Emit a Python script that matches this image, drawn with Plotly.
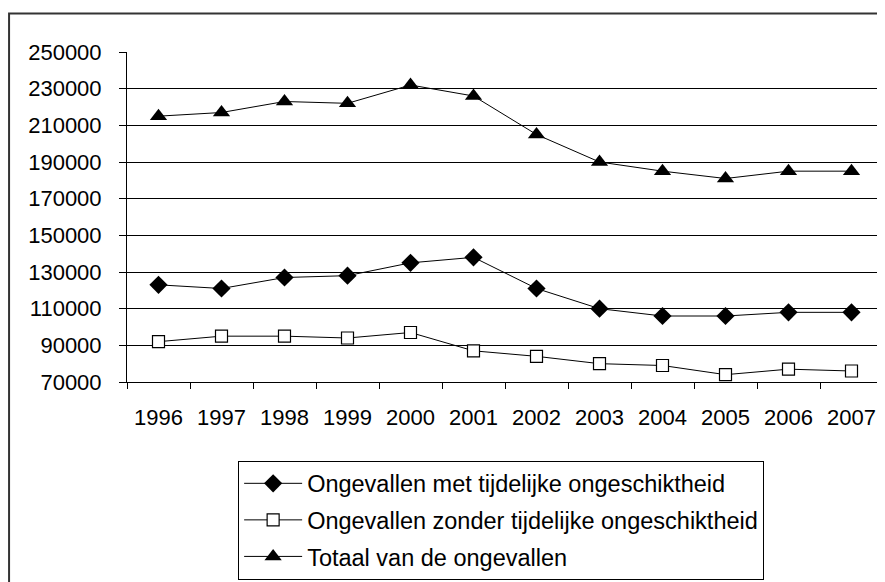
import plotly.graph_objects as go

jaren = ['1996', '1997', '1998', '1999', '2000', '2001',
         '2002', '2003', '2004', '2005', '2006', '2007']
met_ongeschiktheid = [123000, 121000, 127000, 128000, 135000, 138000,
                      121000, 110000, 106000, 106000, 108000, 108000]
zonder_ongeschiktheid = [92000, 95000, 95000, 94000, 97000, 87000,
                         84000, 80000, 79000, 74000, 77000, 76000]
totaal = [215000, 217000, 223000, 222000, 232000, 226000,
          205000, 190000, 185000, 181000, 185000, 185000]
y_ticks = [70000, 90000, 110000, 130000, 150000, 170000, 190000, 210000, 230000, 250000]

FONT = 'Liberation Sans, Arial, sans-serif'

fig = go.Figure()
fig.add_trace(go.Scatter(
    x=jaren, y=met_ongeschiktheid,
    name='Ongevallen met tijdelijke ongeschiktheid',
    mode='lines+markers', legendgroup='a',
    line=dict(color='black', width=1),
    marker=dict(symbol='diamond', size=14, color='black')
))
fig.add_trace(go.Scatter(
    x=jaren, y=zonder_ongeschiktheid,
    name='Ongevallen zonder tijdelijke ongeschiktheid',
    mode='lines+markers', legendgroup='b',
    line=dict(color='black', width=1),
    marker=dict(symbol='square', size=12, color='white',
                line=dict(color='black', width=1.2))
))
fig.add_trace(go.Scatter(
    x=jaren, y=totaal,
    name='Totaal van de ongevallen',
    mode='lines+markers', legendgroup='c',
    line=dict(color='black', width=1),
    marker=dict(symbol='triangle-up', size=15, color='black')
))

# buitenrand van de grafiek
fig.add_shape(type='rect', xref='paper', yref='paper',
              x0=-0.156, x1=1.02, y0=-0.8, y1=1.117,
              line=dict(color='#333333', width=2), layer='below')

# pagina heeft 8px body-marge, dus figuur iets kleiner
fig.update_layout(
    width=877, height=574,
    margin=dict(l=119, r=2, t=44, b=198),
    paper_bgcolor='white', plot_bgcolor='white',
    font=dict(family=FONT, size=20, color='black'),
    legend=dict(
        x=0.147, y=-0.238, xanchor='left', yanchor='top',
        bordercolor='black', borderwidth=1,
        font=dict(size=23.5),
        tracegroupgap=3, itemwidth=58, bgcolor='white'
    ),
    xaxis=dict(
        type='category', range=[-0.5, 11.5], automargin=False,
        tickson='boundaries', ticks='outside', ticklen=6,
        tickcolor='black', showline=True, linecolor='black',
        showgrid=False, ticklabelstandoff=16,
        tickfont=dict(size=22)
    ),
    yaxis=dict(
        range=[70000, 250000], tickvals=y_ticks, tickformat='d',
        automargin=False,
        ticks='outside', ticklen=7, tickcolor='black',
        showline=True, linecolor='black',
        showgrid=True, gridcolor='black', gridwidth=1,
        zeroline=False, ticklabelstandoff=13,
        tickfont=dict(size=22)
    ),
)

fig.write_html('out.html')
